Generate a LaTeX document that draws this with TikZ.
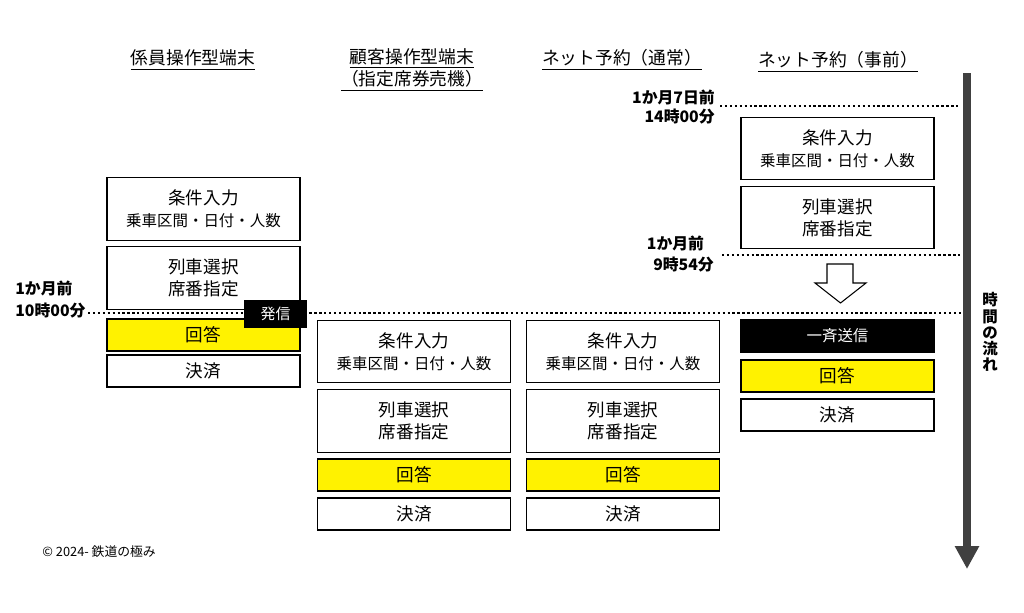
\documentclass[tikz,border=0pt]{standalone}
\usepackage{fontspec}
\setmainfont{Noto Sans CJK JP}
\usepackage{tikz}
\usetikzlibrary{arrows.meta}
\tikzset{>/.tip={Triangle[width=13pt,length=13pt]},
  koma/.style={draw, line width=0.7pt, minimum width=3.86cm, align=center, inner sep=1pt, font=\fontsize{10}{12.5}\selectfont},
  takai/.style={koma, minimum height=1.25cm},
  hikui/.style={koma, minimum height=0.64cm},
  kaitou/.style={hikui, fill=yellow},
  soushin/.style={hikui, fill=black, text=white, font=\fontsize{8.8}{10}\selectfont},
  midashi/.style={align=center, font=\fontsize{10.1}{11.3}\selectfont},
  jikoku/.style={font=\fontsize{9}{11.3}\selectfont\bfseries, inner sep=0pt},
  tensen/.style={line width=1.3pt, dash pattern=on 1.3pt off 1.5pt}}
\newcommand{\jouken}{条件入力\\{\fontsize{8.8}{11}\selectfont 乗車区間・日付・人数}}
\newcommand{\ressha}{列車選択\\席番指定}

\begin{document}
\begin{tikzpicture}[x=0.02cm, y=-0.02cm]
\useasboundingbox (0,0) rectangle (1024,612);
% titles
\node[midashi] (t1) at (193,60)  {\underline{係員操作型端末}};
\node[midashi] (t2) at (412,70)  {\underline{顧客操作型端末}\\\underline{（指定席券売機）}};
\node[midashi] (t3) at (622,60)  {\underline{ネット予約（通常）}};
\node[midashi] (t4) at (838,62)  {\underline{ネット予約（事前）}};
% time labels
\node[jikoku, anchor=west] (m1) at (15,288) {1か月前};
\node[jikoku, anchor=west] (m2) at (15,311) {10時00分};
\node[jikoku, anchor=east] (m3) at (715,97)  {1か月7日前};
\node[jikoku, anchor=east] (m4) at (715,117) {14時00分};
\node[jikoku] (m5) at (675.5,243) {1か月前};
\node[jikoku] (m6) at (683.5,265) {9時54分};
% dotted lines
\coordinate (d1a) at (88,313);  \coordinate (d1b) at (968,313);
\coordinate (d2a) at (720,106); \coordinate (d2b) at (960,106);
\coordinate (d3a) at (722,255); \coordinate (d3b) at (960,255);
\draw[tensen] (d1a) -- (d1b);
\draw[tensen] (d2a) -- (d2b);
\draw[tensen] (d3a) -- (d3b);
% column 1
\node[takai] (a1) at (203.5,209) {\jouken};
\node[takai] (a2) at (203.5,278) {\ressha};
\node[kaitou] (a3) at (203.5,335) {回答};
\node[hikui] (a4) at (203.5,371) {決済};
\node[soushin, font=\fontsize{8.5}{10}\selectfont, minimum width=1.22cm, minimum height=0.52cm] (a5) at (275.5,314) {発信};
% columns 2 and 3
\foreach \c/\x in {b/414, c/623}
{
  \node[takai] (\c1) at (\x,351.5) {\jouken};
  \node[takai] (\c2) at (\x,421) {\ressha};
  \node[kaitou] (\c3) at (\x,475) {回答};
  \node[hikui] (\c4) at (\x,514) {決済};
}
% column 4
\node[takai] (e1) at (837.5,148.5) {\jouken};
\node[takai] (e2) at (837.5,217.5) {\ressha};
\node[soushin] (e3) at (837.5,336) {一斉送信};
\node[kaitou] (e4) at (837.5,376) {回答};
\node[hikui] (e5) at (837.5,415) {決済};
% hollow arrow
\draw[line width=0.6pt, fill=white] (827,264) -- (853,264) -- (853,283) -- (866,283)
  -- (840.5,303) -- (815,283) -- (827,283) -- cycle;
% time axis
\coordinate (ya) at (967,73);
\coordinate (yb) at (967,569);
\draw[->, line width=4.5pt, color=black!75] (ya) -- (yb);
\node[font=\fontsize{8.8}{9.2}\selectfont\bfseries, align=center, inner sep=0pt] (nagare) at (990,332) {時\\間\\の\\流\\れ};
% credit
\node[anchor=west, font=\fontsize{7.3}{8}\selectfont, inner sep=0pt] (cr) at (42,552) {© 2024- 鉄道の極み};
\end{tikzpicture}
\end{document}
